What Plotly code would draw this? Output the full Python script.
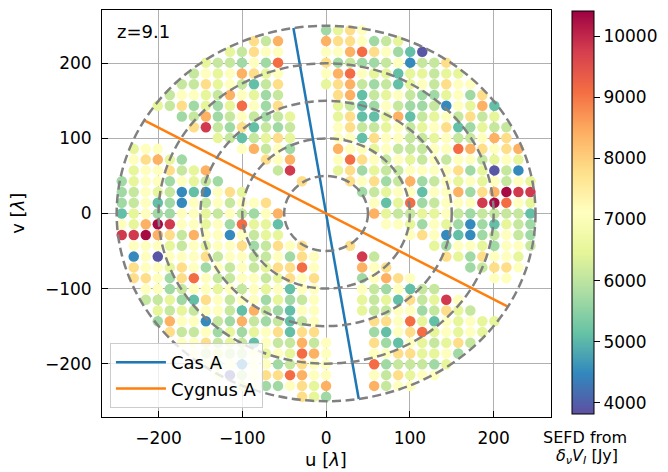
import plotly.graph_objects as go

# ---------------- data ----------------
UV_CELL = 14.35            # uv-grid spacing [lambda]
I_LEFT = -17               # u index of first character in each row
J_TOP = 17                 # v index of first row

# SEFD colour classes (Jy) used for each grid cell
CODE_VALUES = {
    "P": 3900, "B": 4500, "T": 5100, "G": 5700, "g": 6100, "l": 6500,
    "y": 7100, "o": 7800, "O": 8400, "r": 9100, "R": 9800, "D": 10300,
}

# one string per v-row (v from +17 to -17 cells), one char per u-cell (-17..17), '.' = empty
ROWS = [
    ".................Gloy..............",
    "...........ogO...OooyGgl...........",
    ".........lgoyy...yyOroyGTP.........",
    ".......lggGyGr...oGgGGgyBggo.......",
    "......gylyOoly...yOryllTllgll......",
    ".....ggolygTgo...loOgGgTlygoyy.....",
    "....gyylgOylGg....oOTglygGGlyGo....",
    "...lgoGlGlryGo....lgTGygGGgBylOT...",
    ".....GgOGgygGgl...loTTlOTglygogl...",
    "......oRgGoTgGg...yogglyglyoTGlgg..",
    "........lgTglol...yyToyygglyggyOo..",
    ".lyy......yOgyG...OyylygggyyrOoyoO.",
    ".yoOlG......oyO...yroygylgygyyglyl.",
    ".lyyoglO.....gR...loGlggyyyyoGlPgB.",
    "GlyyGylgG......o...oyoGgOGgylylygyl",
    "GgylgBTByol.........GglyyTyyOGoODRR",
    "GgyTGBygygyyo........yTlrGgyyyRDryl",
    "TlyGGyylgygGyO.......OlggllygGggggT",
    "ylODRyylyGrllT........yylGylGBGTlgG",
    "RRDOogOyyBygll..........yoyBTBGgygG",
    ".yyylgylyyoGgoyo...o......lGyylGyyg",
    ".ByPyyyogyyggyGoy...Rg.....olGoyyl.",
    ".oyyloyGygygloory...Oyo......Ggooy.",
    ".ooyGoryggyygloyo...GyOoy......yy..",
    "..yyGgyylygylyTyy...ygGyTgg........",
    "..gglGToygyyGlGgy...lglToglRy......",
    "...lglgyygTOgGTyy...lggyyGgolg.....",
    "...GOyyBgGOgGgTgy....ooyrlTylyll...",
    "....oggyGlGlyoToo....GTyorlylyl....",
    ".....yyoglgTyggOgy...oGTylglog.....",
    "......yglggylylrOy...yyoollyG......",
    ".......ygyByyGgoyy...rGgggGl.......",
    "........yPgyoorOyy...ygolyy........",
    "..........lyGGyolO...Ogyy..........",
    "...............olG.................",
]

CAS_A_U = [-39, 39]
CAS_A_V = [247, -247]
CYG_A_U = [-217, 217]
CYG_A_V = [124, -124]

RING_RADII = [50, 100, 150, 200, 250]
AXIS_TICKS = [-200, -100, 0, 100, 200]
SEFD_TICKS = [4000, 5000, 6000, 7000, 8000, 9000, 10000]
SEFD_RANGE = [3820, 10410]
REDSHIFT_LABEL = "z=9.1"

# ---------------- build the points ----------------
us, vs, sefd = [], [], []
for r, row in enumerate(ROWS):
    j = J_TOP - r
    row = row.ljust(35, ".")[:35]
    for c, ch in enumerate(row):
        if ch not in CODE_VALUES:
            continue
        us.append((I_LEFT + c) * UV_CELL)
        vs.append(j * UV_CELL)
        sefd.append(CODE_VALUES[ch])

FONT = "DejaVu Sans"
W, H = 668, 472
L, R, T, B = 102, 113, 10, 55
PW, PH = W - L - R, H - T - B

fig = go.Figure()

fig.add_trace(go.Scatter(
    x=us, y=vs, mode="markers", showlegend=False, hoverinfo="skip",
    marker=dict(
        size=10.5, color=sefd, colorscale="Spectral", reversescale=True,
        cmin=SEFD_RANGE[0], cmax=SEFD_RANGE[1], line=dict(width=0),
        colorbar=dict(
            x=(576 - L) / PW, xanchor="left", xpad=0,
            y=1 - ((11 + 414) / 2 - T) / PH, yanchor="middle", ypad=0,
            lenmode="pixels", len=403, thickness=22,
            outlinecolor="black", outlinewidth=1,
            tickvals=SEFD_TICKS, ticktext=[str(t) for t in SEFD_TICKS],
            ticks="outside", ticklen=6, tickcolor="black",
            tickfont=dict(family=FONT, size=17, color="black"),
        ),
    ),
))

fig.add_trace(go.Scatter(x=CAS_A_U, y=CAS_A_V, mode="lines", name="Cas A",
                         line=dict(color="#1f77b4", width=2.5), hoverinfo="skip"))
fig.add_trace(go.Scatter(x=CYG_A_U, y=CYG_A_V, mode="lines", name="Cygnus A",
                         line=dict(color="#ff7f0e", width=2.5), hoverinfo="skip"))

for rad in RING_RADII:
    fig.add_shape(type="circle", xref="x", yref="y", x0=-rad, x1=rad, y0=-rad, y1=rad,
                  line=dict(color="gray", width=2.5, dash="9px,4.5px"), layer="above")

axis_common = dict(
    tickvals=AXIS_TICKS, showgrid=True, gridcolor="#b0b0b0", gridwidth=1,
    zeroline=False, showline=True, linecolor="black", linewidth=1, mirror=True,
    ticks="inside", ticklen=6, tickcolor="black",
    tickfont=dict(family=FONT, size=17, color="black"),
)
fig.update_xaxes(range=[-267.5, 268.5], ticklabelstandoff=6, **axis_common)
fig.update_yaxes(range=[-271, 271], ticklabelstandoff=6, **axis_common)

fig.add_annotation(text=REDSHIFT_LABEL, xref="paper", yref="paper",
                   x=(115 - L) / PW, y=1 - (31 - T) / PH, xanchor="left", yanchor="middle",
                   showarrow=False, font=dict(family=FONT, size=18, color="black"))
fig.add_annotation(text="u [<i>λ</i>]", xref="paper", yref="paper",
                   x=(328 - L) / PW, y=1 - (459 - T) / PH, xanchor="center", yanchor="middle",
                   showarrow=False, font=dict(family=FONT, size=18, color="black"))
fig.add_annotation(text="v [<i>λ</i>]", xref="paper", yref="paper", textangle=-90,
                   x=(16 - L) / PW, y=1 - (213 - T) / PH, xanchor="center", yanchor="middle",
                   showarrow=False, font=dict(family=FONT, size=18, color="black"))
fig.add_annotation(text="SEFD from", xref="paper", yref="paper",
                   x=(589 - L) / PW, y=1 - (437 - T) / PH, xanchor="center", yanchor="middle",
                   showarrow=False, font=dict(family=FONT, size=16, color="black"))
fig.add_annotation(text="<i>δ<sub>ν</sub>V<sub>I</sub></i> [Jy]", xref="paper", yref="paper",
                   x=(591 - L) / PW, y=1 - (457 - T) / PH, xanchor="center", yanchor="middle",
                   showarrow=False, font=dict(family=FONT, size=16, color="black"))

fig.update_layout(
    width=W, height=H, margin=dict(l=L, r=R, t=T, b=B),
    plot_bgcolor="white", paper_bgcolor="white",
    font=dict(family=FONT, size=17, color="black"),
    legend=dict(x=(110 - L) / PW, y=(417 - 408) / PH, xanchor="left", yanchor="bottom",
                bgcolor="rgba(255,255,255,0.8)", bordercolor="#cccccc", borderwidth=1,
                itemwidth=50,
                font=dict(family=FONT, size=18, color="black")),
)

fig.write_html("out.html", config={"displayModeBar": False},
               post_script="document.body.style.margin='0';document.body.style.overflow='hidden';")
